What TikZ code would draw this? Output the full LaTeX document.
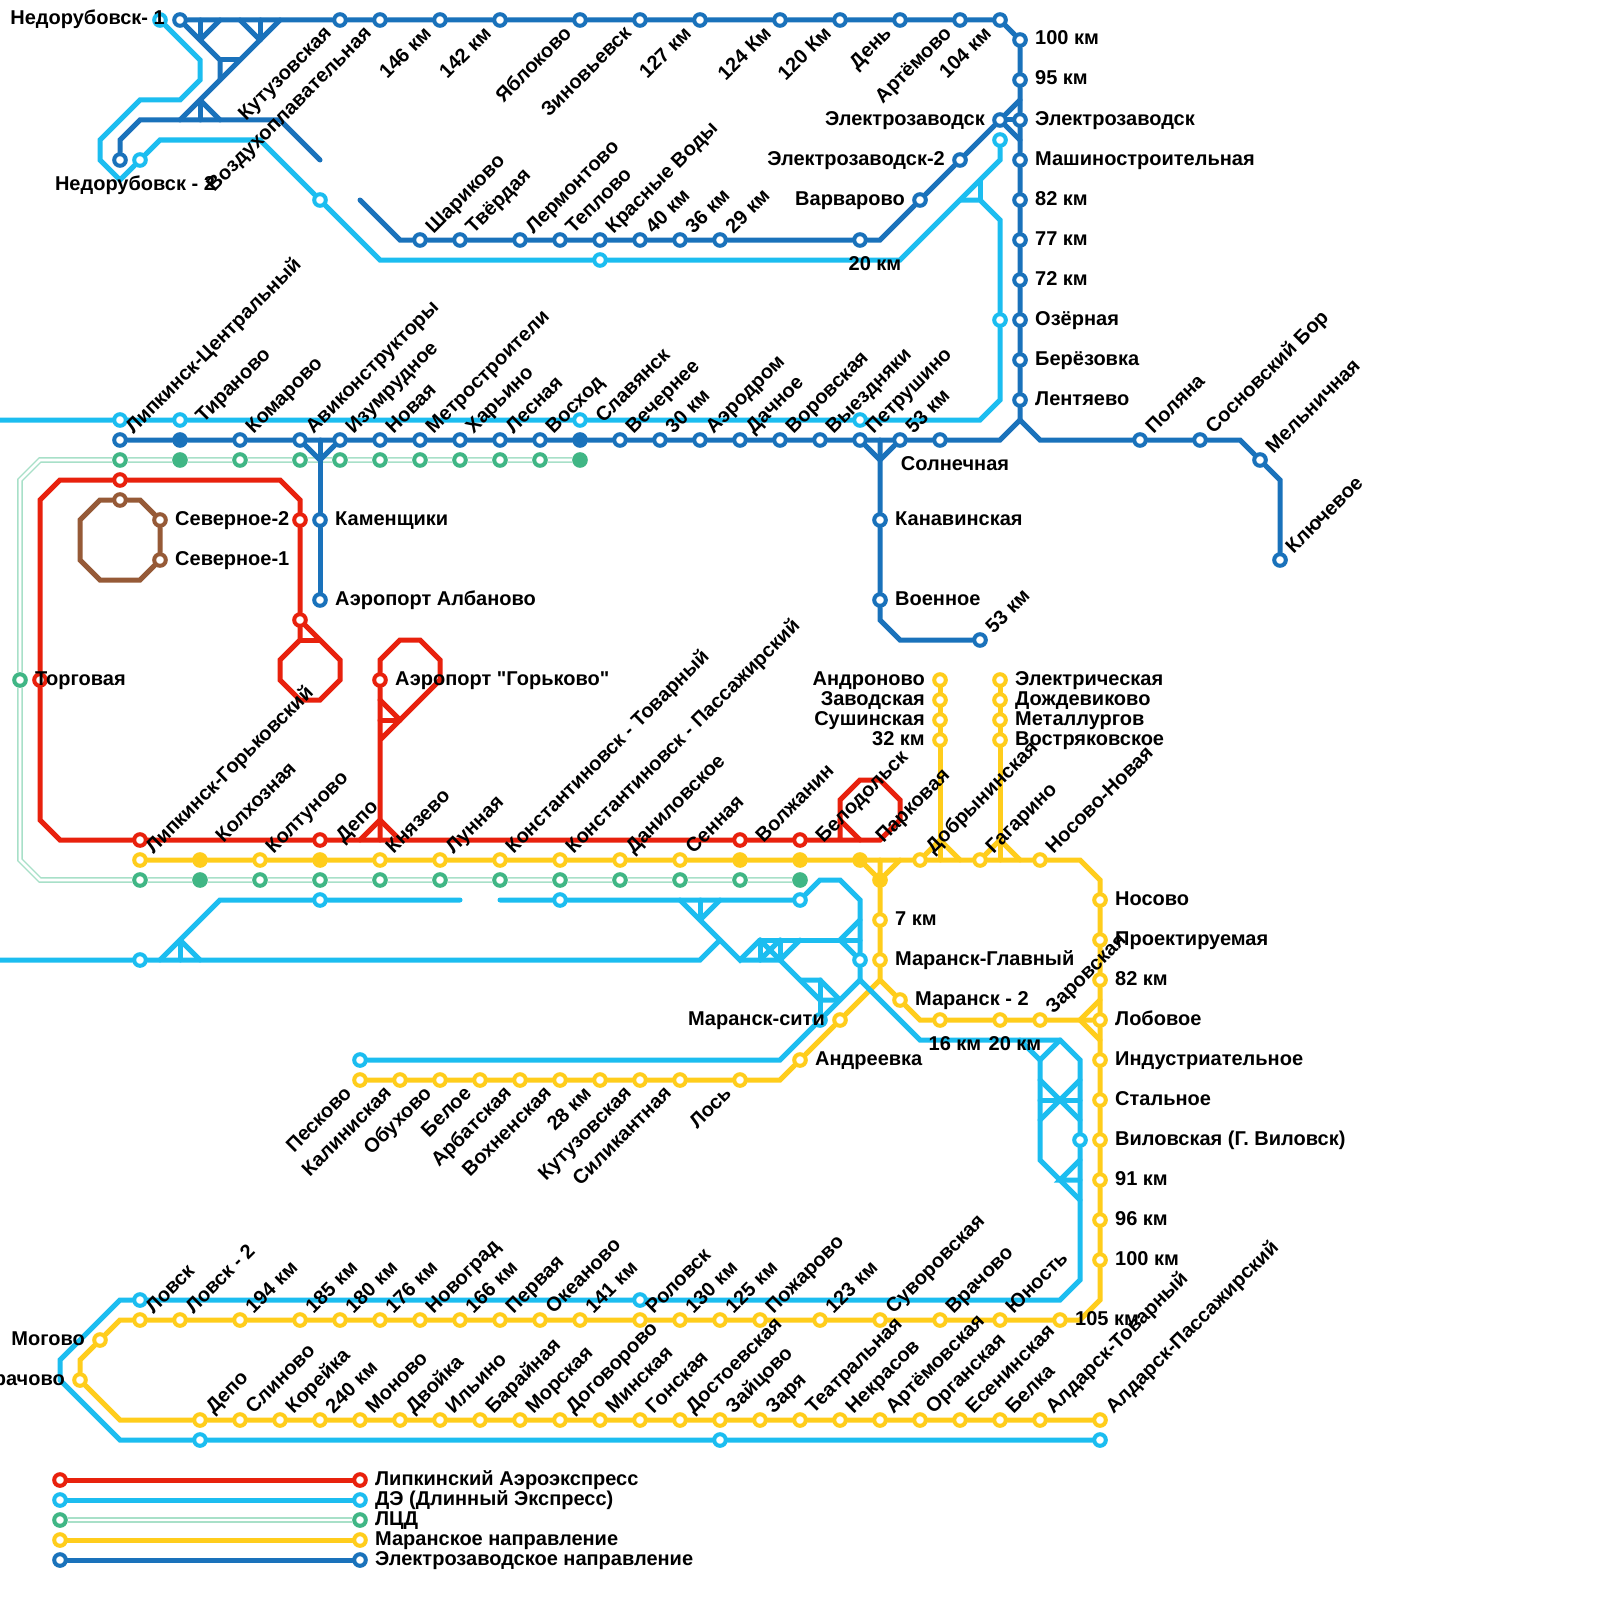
\documentclass[tikz,border=0pt]{standalone}
\usepackage{fontspec}
\setmainfont{Liberation Sans}[Ligatures=TeXOff]
\usetikzlibrary{calc}
\definecolor{cR}{HTML}{E8210D}
\definecolor{cL}{HTML}{1CBDF0}
\definecolor{cD}{HTML}{1A72BB}
\definecolor{cY}{HTML}{FFCD1C}
\definecolor{cG}{HTML}{40B685}
\definecolor{cP}{HTML}{A8E0C8}
\definecolor{cB}{HTML}{965A37}
\pgfdeclarelayer{fg}
\pgfsetlayers{main,fg}
\tikzset{
  x=1pt,y=-1pt,
  ln/.style={line width=5pt,line cap=round,line join=miter},
  lR/.style={ln,draw=cR}, lL/.style={ln,draw=cL}, lD/.style={ln,draw=cD},
  lY/.style={ln,draw=cY}, lB/.style={ln,draw=cB},
  lG/.style={draw=cP,line width=1.5pt,double=white,double distance=2.6pt},
  stn/.style={circle,inner sep=0pt,minimum size=11.6pt,line width=4pt,fill=white},
  sR/.style={stn,draw=cR}, sL/.style={stn,draw=cL}, sD/.style={stn,draw=cD},
  sY/.style={stn,draw=cY}, sG/.style={stn,draw=cG}, sB/.style={stn,draw=cB},
  fD/.style={stn,draw=cD,fill=cD}, fY/.style={stn,draw=cY,fill=cY}, fG/.style={stn,draw=cG,fill=cG},
  lab/.style={inner sep=0pt,text height=14pt,text depth=4pt,font=\bfseries\fontsize{20}{22}\selectfont,text=black},
}
\newcommand\sts[3]{\foreach \a/\b in {#3}{\node[#1] (#2\a-\b) at (\a,\b) {};}}
\newcommand\Lr[3][0,0]{\node[lab,anchor=west] (#2-t) at ($(#2)+(15,0)+(#1)$) {#3};}
\newcommand\Ll[3][0,0]{\node[lab,anchor=east] (#2-t) at ($(#2)+(-15,0)+(#1)$) {#3};}
\newcommand\Lu[2]{\node[lab,rotate=45,anchor=west] (#1-t) at ($(#1)+(10,-9)$) {#2};}
\newcommand\Lf[2]{\node[lab,rotate=45,anchor=west] (#1-t) at ($(#1)+(20,-20)$) {#2};}
\newcommand\Ld[2]{\node[lab,rotate=45,anchor=east] (#1-t) at ($(#1)+(-11,11)$) {#2};}
\newcommand\Lc[3]{\node[lab] (#2-t) at ($(#2)+(#1)$) {#3};}
\begin{document}
\begin{tikzpicture}
\path[fill=white,use as bounding box] (0,0) rectangle (1600,1600);
\foreach \a/\b in {0/420,0/960,20/480,40/460,20/860,40/880,40/500,60/480,40/820,60/840,280/480,300/500,340/660,340/680,320/700,300/700,280/680,280/660,300/640,320/640,
360/840,380/820,400/840,380/840,380/660,400/640,420/640,440/660,440/680,400/720,380/740,380/700,380/720,
880/840,900/820,900/800,880/780,860/780,840/800,840/840,840/820,860/840,
1020/420,1000/440,1040/440,1240/440,1280/480,320/460,320/440,880/460,880/440,880/620,900/640,220/60,220/80,280/20,180/120,240/60,200/20,200/40,220/20,240/20,260/40,260/20,200/100,200/120,220/120,120/140,140/120,280/120,320/160,360/200,400/240,880/240,1020/100,1020/140,
200/60,200/80,180/100,140/100,100/140,100/160,120/180,160/140,260/140,380/260,900/260,960/200,1000/160,980/200,1000/220,1000/400,980/420,980/180,
700/960,720/940,160/960,220/900,460/900,180/940,180/960,200/960,500/900,820/880,840/880,860/900,860/920,840/940,860/980,760/940,860/940,680/900,740/960,700/900,700/920,720/900,780/960,800/940,760/960,780/940,820/1000,840/1000,800/980,820/980,780/1060,920/1040,1060/1040,1080/1060,1080/1280,1060/1300,120/1300,60/1360,60/1380,120/1440,1020/1040,1040/1060,1040/1160,1060/1180,1080/1200,1040/1080,1080/1120,1040/1120,1080/1080,1040/1100,1080/1100,1080/1160,1080/1180,
1080/860,1100/880,1100/1300,1080/1320,120/1320,80/1360,120/1420,900/860,880/860,880/980,920/1020,1080/1020,1100/1000,1100/1040,780/1080,940/860,940/840,960/860,1000/860,1000/840,1020/860,
140/500,140/580,100/580,80/560,80/520,100/500}{\coordinate (j\a-\b) at (\a,\b);}
\begin{pgfonlayer}{fg}
% dark
\sts{sD}{d}{180/20,340/20,380/20,440/20,500/20,580/20,640/20,700/20,780/20,840/20,900/20,960/20,1000/20,1020/40,1020/80,1020/120,1020/160,1020/200,1020/240,1020/280,1020/320,1020/360,1020/400,1000/120,960/160,920/200,860/240,420/240,460/240,520/240,560/240,600/240,640/240,680/240,720/240,120/160,120/440,240/440,300/440,340/440,380/440,420/440,460/440,500/440,540/440,620/440,660/440,700/440,740/440,780/440,820/440,860/440,900/440,940/440,1140/440,1200/440,1260/460,1280/560,320/520,320/600,880/520,880/600,980/640,60/1560,360/1560}
\sts{fD}{d}{180/440,580/440}
% light
\sts{sL}{l}{160/20,140/160,320/200,600/260,1000/140,1000/320,120/420,180/420,580/420,860/420,140/960,320/900,560/900,800/900,860/960,820/1020,360/1060,1080/1140,140/1300,640/1300,200/1440,720/1440,1100/1440,60/1500,360/1500}
% green
\sts{sG}{g}{20/680,120/460,240/460,300/460,340/460,380/460,420/460,460/460,500/460,540/460,140/880,260/880,320/880,380/880,440/880,500/880,560/880,620/880,680/880,740/880,60/1520,360/1520}
\sts{fG}{g}{180/460,580/460,200/880,800/880}
% red
\sts{sR}{r}{120/480,300/520,300/620,40/680,140/840,320/840,740/840,800/840,380/680,60/1480,360/1480}
% brown
\sts{sB}{b}{120/500,160/520,160/560}
% yellow
\sts{sY}{y}{140/860,260/860,380/860,440/860,500/860,560/860,620/860,680/860,920/860,980/860,1040/860,880/920,880/960,900/1000,940/1020,1000/1020,1040/1020,1100/1020,840/1020,800/1060,360/1080,400/1080,440/1080,480/1080,520/1080,560/1080,600/1080,640/1080,680/1080,740/1080,1100/900,1100/940,1100/980,1100/1060,1100/1100,1100/1140,1100/1180,1100/1220,1100/1260,940/680,940/700,940/720,940/740,1000/680,1000/700,1000/720,1000/740,
140/1320,180/1320,240/1320,300/1320,340/1320,380/1320,420/1320,460/1320,500/1320,540/1320,580/1320,640/1320,680/1320,720/1320,760/1320,820/1320,880/1320,940/1320,1000/1320,1060/1320,100/1340,80/1380,
200/1420,240/1420,280/1420,320/1420,360/1420,400/1420,440/1420,480/1420,520/1420,560/1420,600/1420,640/1420,680/1420,720/1420,760/1420,800/1420,840/1420,880/1420,920/1420,960/1420,1000/1420,1040/1420,1100/1420,60/1540,360/1540}
\sts{fY}{y}{200/860,320/860,740/860,800/860,860/860,880/880}
\end{pgfonlayer}
% ---------- green
\draw[lG] (g20-680) -- (j20-480) -- (j40-460) -- (g120-460) -- (g180-460) -- (g240-460) -- (g300-460) -- (g340-460) -- (g380-460) -- (g420-460) -- (g460-460) -- (g500-460) -- (g540-460) -- (g580-460);
\draw[lG] (g20-680) -- (j20-860) -- (j40-880) -- (g140-880) -- (g200-880) -- (g260-880) -- (g320-880) -- (g380-880) -- (g440-880) -- (g500-880) -- (g560-880) -- (g620-880) -- (g680-880) -- (g740-880) -- (g800-880);
\draw[lG] (g60-1520) -- (g360-1520);
% ---------- brown
\draw[lB] (b120-500) -- (j140-500) -- (b160-520) -- (b160-560) -- (j140-580) -- (j100-580) -- (j80-560) -- (j80-520) -- (j100-500) -- (b120-500);
% ---------- red
\draw[lR] (r120-480) -- (j60-480) -- (j40-500) -- (r40-680) -- (j40-820) -- (j60-840) -- (r140-840) -- (r320-840) -- (r740-840) -- (r800-840) -- (j880-840) -- (j900-820) -- (j900-800) -- (j880-780) -- (j860-780) -- (j840-800) -- (j840-840);
\draw[lR] (j840-820) -- (j860-840);
\draw[lR] (r120-480) -- (j280-480) -- (j300-500) -- (r300-520) -- (r300-620) -- (j340-660) -- (j340-680) -- (j320-700) -- (j300-700) -- (j280-680) -- (j280-660) -- (j300-640) -- (r300-620);
\draw[lR] (j300-640) -- (j320-640);
\draw[lR] (j360-840) -- (j380-820) -- (j400-840);
\draw[lR] (j380-840) -- (r380-680) -- (j380-660) -- (j400-640) -- (j420-640) -- (j440-660) -- (j440-680) -- (j400-720) -- (j380-740);
\draw[lR] (j380-700) -- (j400-720);
\draw[lR] (j380-720) -- (j400-720);
\draw[lR] (r60-1480) -- (r360-1480);
% ---------- yellow
\draw[lY] (y140-860) -- (y200-860) -- (y260-860) -- (y320-860) -- (y380-860) -- (y440-860) -- (y500-860) -- (y560-860) -- (y620-860) -- (y680-860) -- (y740-860) -- (y800-860) -- (y860-860) -- (y920-860) -- (y980-860) -- (y1040-860) -- (j1080-860) -- (j1100-880) -- (y1100-900) -- (y1100-940) -- (y1100-980) -- (y1100-1020) -- (y1100-1060) -- (y1100-1100) -- (y1100-1140) -- (y1100-1180) -- (y1100-1220) -- (y1100-1260) -- (j1100-1300) -- (j1080-1320) -- (y1060-1320) -- (y1000-1320) -- (y940-1320) -- (y880-1320) -- (y820-1320) -- (y760-1320) -- (y720-1320) -- (y680-1320) -- (y640-1320) -- (y580-1320) -- (y540-1320) -- (y500-1320) -- (y460-1320) -- (y420-1320) -- (y380-1320) -- (y340-1320) -- (y300-1320) -- (y240-1320) -- (y180-1320) -- (y140-1320) -- (j120-1320) -- (y100-1340) -- (j80-1360) -- (y80-1380) -- (j120-1420) -- (y200-1420) -- (y240-1420) -- (y280-1420) -- (y320-1420) -- (y360-1420) -- (y400-1420) -- (y440-1420) -- (y480-1420) -- (y520-1420) -- (y560-1420) -- (y600-1420) -- (y640-1420) -- (y680-1420) -- (y720-1420) -- (y760-1420) -- (y800-1420) -- (y840-1420) -- (y880-1420) -- (y920-1420) -- (y960-1420) -- (y1000-1420) -- (y1040-1420) -- (y1100-1420);
\draw[lY] (y860-860) -- (y880-880) -- (j900-860);
\draw[lY] (j880-860) -- (y880-880) -- (y880-920) -- (y880-960) -- (j880-980) -- (y900-1000) -- (j920-1020) -- (y940-1020) -- (y1000-1020) -- (y1040-1020) -- (j1080-1020) -- (y1100-1020);
\draw[lY] (j1100-1000) -- (j1080-1020) -- (j1100-1040);
\draw[lY] (j880-980) -- (y840-1020) -- (y800-1060) -- (j780-1080) -- (y740-1080) -- (y680-1080) -- (y640-1080) -- (y600-1080) -- (y560-1080) -- (y520-1080) -- (y480-1080) -- (y440-1080) -- (y400-1080) -- (y360-1080);
\draw[lY] (y940-680) -- (y940-700) -- (y940-720) -- (y940-740) -- (j940-860);
\draw[lY] (y920-860) -- (j940-840) -- (j960-860);
\draw[lY] (y1000-680) -- (y1000-700) -- (y1000-720) -- (y1000-740) -- (j1000-860);
\draw[lY] (y980-860) -- (j1000-840) -- (j1020-860);
\draw[lY] (y60-1540) -- (y360-1540);
% ---------- light blue
\draw[lL] (l160-20) -- (j200-60) -- (j200-80) -- (j180-100) -- (j140-100) -- (j100-140) -- (j100-160) -- (j120-180) -- (l140-160) -- (j160-140) -- (j260-140) -- (l320-200) -- (j380-260) -- (l600-260) -- (j900-260) -- (j960-200) -- (j1000-160) -- (l1000-140);
\draw[lL] (j960-200) -- (j980-200) -- (j1000-220) -- (l1000-320) -- (j1000-400) -- (j980-420) -- (l860-420) -- (l580-420) -- (l180-420) -- (l120-420) -- (j0-420);
\draw[lL] (j980-180) -- (j980-200);
\draw[lL] (j0-960) -- (l140-960) -- (j700-960) -- (j720-940);
\draw[lL] (j160-960) -- (j220-900) -- (l320-900) -- (j460-900);
\draw[lL] (j180-940) -- (j180-960);
\draw[lL] (j180-940) -- (j200-960);
\draw[lL] (j500-900) -- (l560-900) -- (l800-900) -- (j820-880) -- (j840-880) -- (j860-900) -- (l860-960) -- (j860-980);
\draw[lL] (j860-920) -- (j840-940) -- (l860-960);
\draw[lL] (j760-940) -- (j860-940);
\draw[lL] (j680-900) -- (j740-960) -- (j760-940);
\draw[lL] (j700-900) -- (j700-920);
\draw[lL] (j720-900) -- (j700-920);
\draw[lL] (j740-960) -- (j780-960) -- (j800-940);
\draw[lL] (j760-940) -- (j760-960);
\draw[lL] (j780-940) -- (j780-960);
\draw[lL] (j760-940) -- (j780-960);
\draw[lL] (j760-960) -- (j780-940);
\draw[lL] (j780-960) -- (j820-1000) -- (j840-1000);
\draw[lL] (j800-980) -- (j820-980) -- (j840-1000);
\draw[lL] (j820-980) -- (l820-1020);
\draw[lL] (l360-1060) -- (j780-1060) -- (l820-1020) -- (j860-980) -- (j920-1040) -- (j1060-1040) -- (j1080-1060) -- (l1080-1140) -- (j1080-1280) -- (j1060-1300) -- (l640-1300) -- (l140-1300) -- (j120-1300) -- (j60-1360) -- (j60-1380) -- (j120-1440) -- (l200-1440) -- (l720-1440) -- (l1100-1440);
\draw[lL] (j1020-1040) -- (j1040-1060) -- (j1060-1040);
\draw[lL] (j1040-1060) -- (j1040-1160) -- (j1060-1180) -- (j1080-1200);
\draw[lL] (j1040-1080) -- (j1080-1120);
\draw[lL] (j1040-1120) -- (j1080-1080);
\draw[lL] (j1040-1100) -- (j1080-1100);
\draw[lL] (j1080-1160) -- (j1060-1180) -- (j1080-1180);
\draw[lL] (l60-1500) -- (l360-1500);
% ---------- dark blue
\draw[lD] (d180-20) -- (d340-20) -- (d380-20) -- (d440-20) -- (d500-20) -- (d580-20) -- (d640-20) -- (d700-20) -- (d780-20) -- (d840-20) -- (d900-20) -- (d960-20) -- (d1000-20) -- (d1020-40) -- (d1020-80) -- (d1020-120) -- (d1020-160) -- (d1020-200) -- (d1020-240) -- (d1020-280) -- (d1020-320) -- (d1020-360) -- (d1020-400) -- (j1020-420);
\draw[lD] (d120-440) -- (d180-440) -- (d240-440) -- (d300-440) -- (d340-440) -- (d380-440) -- (d420-440) -- (d460-440) -- (d500-440) -- (d540-440) -- (d580-440) -- (d620-440) -- (d660-440) -- (d700-440) -- (d740-440) -- (d780-440) -- (d820-440) -- (d860-440) -- (d900-440) -- (d940-440) -- (j1000-440) -- (j1020-420) -- (j1040-440) -- (d1140-440) -- (d1200-440) -- (j1240-440) -- (d1260-460) -- (j1280-480) -- (d1280-560);
\draw[lD] (d300-440) -- (j320-460) -- (d340-440);
\draw[lD] (j320-440) -- (j320-460) -- (d320-520) -- (d320-600);
\draw[lD] (d860-440) -- (j880-460) -- (d900-440);
\draw[lD] (j880-440) -- (j880-460) -- (d880-520) -- (d880-600) -- (j880-620) -- (j900-640) -- (d980-640);
\draw[lD] (d180-20) -- (j220-60) -- (j220-80);
\draw[lD] (j280-20) -- (j180-120);
\draw[lD] (j220-60) -- (j240-60);
\draw[lD] (j200-20) -- (j200-40);
\draw[lD] (j220-20) -- (j200-40);
\draw[lD] (j240-20) -- (j260-40);
\draw[lD] (j260-20) -- (j260-40);
\draw[lD] (j200-100) -- (j200-120);
\draw[lD] (j200-100) -- (j220-120);
\draw[lD] (d120-160) -- (j120-140) -- (j140-120) -- (j280-120) -- (j320-160);
\draw[lD] (j360-200) -- (j400-240) -- (d420-240) -- (d460-240) -- (d520-240) -- (d560-240) -- (d600-240) -- (d640-240) -- (d680-240) -- (d720-240) -- (d860-240) -- (j880-240) -- (d920-200) -- (d960-160) -- (d1000-120) -- (j1020-100);
\draw[lD] (d1000-120) -- (d1020-120);
\draw[lD] (d1000-120) -- (j1020-140);
\draw[lD] (d60-1560) -- (d360-1560);
% ---------- labels
\begin{pgfonlayer}{fg}
\Ll[20,0]{l160-20}{Недорубовск- 1}
\Lc{-5,25}{l140-160}{Недорубовск - 2}
\Ld{d340-20}{Кутузовская}
\Ld{d380-20}{Воздухоплавательная}
\Ld{d440-20}{146 км}
\Ld{d500-20}{142 км}
\Ld{d580-20}{Яблоково}
\Ld{d640-20}{Зиновьевск}
\Ld{d700-20}{127 км}
\Ld{d780-20}{124 Км}
\Ld{d840-20}{120 Км}
\Ld{d900-20}{День}
\Ld{d960-20}{Артёмово}
\Ld{d1000-20}{104 км}
\Lr{d1020-40}{100 км}
\Lr{d1020-80}{95 км}
\Lr{d1020-120}{Электрозаводск}
\Lr{d1020-160}{Машиностроительная}
\Lr{d1020-200}{82 км}
\Lr{d1020-240}{77 км}
\Lr{d1020-280}{72 км}
\Lr{d1020-320}{Озёрная}
\Lr{d1020-360}{Берёзовка}
\Lr{d1020-400}{Лентяево}
\Ll{d1000-120}{Электрозаводск}
\Ll{d960-160}{Электрозаводск-2}
\Ll{d920-200}{Варварово}
\Lc{15,25}{d860-240}{20 км}
\Lu{d420-240}{Шариково}
\Lu{d460-240}{Твёрдая}
\Lu{d520-240}{Лермонтово}
\Lu{d560-240}{Теплово}
\Lu{d600-240}{Красные Воды}
\Lu{d640-240}{40 км}
\Lu{d680-240}{36 км}
\Lu{d720-240}{29 км}
\Lu{d120-440}{Липкинск-Центральный}
\Lf{d180-440}{Тираново}
\Lu{d240-440}{Комарово}
\Lu{d300-440}{Авиконструкторы}
\Lu{d340-440}{Изумрудное}
\Lu{d380-440}{Новая}
\Lu{d420-440}{Метростроители}
\Lu{d460-440}{Харьино}
\Lu{d500-440}{Лесная}
\Lu{d540-440}{Восход}
\Lf{d580-440}{Славянск}
\Lu{d620-440}{Вечернее}
\Lu{d660-440}{30 км}
\Lu{d700-440}{Аэродром}
\Lu{d740-440}{Дачное}
\Lu{d780-440}{Воровская}
\Lu{d820-440}{Выездняки}
\Lu{d860-440}{Петрушино}
\Lu{d900-440}{53 км}
\Lc{15,25}{d940-440}{Солнечная}
\Lu{d1140-440}{Поляна}
\Lu{d1200-440}{Сосновский Бор}
\Lu{d1260-460}{Мельничная}
\Lu{d1280-560}{Ключевое}
\Lr{d320-520}{Каменщики}
\Lr{d320-600}{Аэропорт Албаново}
\Lr{d880-520}{Канавинская}
\Lr{d880-600}{Военное}
\Lu{d980-640}{53 км}
\Lr{b160-520}{Северное-2}
\Lr{b160-560}{Северное-1}
\Lr{g20-680}{Торговая}
\Lr{r380-680}{Аэропорт "Горьково"}
\Ll{y940-680}{Андроново}
\Ll{y940-700}{Заводская}
\Ll{y940-720}{Сушинская}
\Ll{y940-740}{32 км}
\Lr{y1000-680}{Электрическая}
\Lr{y1000-700}{Дождевиково}
\Lr{y1000-720}{Металлургов}
\Lr{y1000-740}{Востряковское}
\Lu{y140-860}{Липкинск-Горьковский}
\Lf{y200-860}{Колхозная}
\Lu{y260-860}{Колтуново}
\Lf{y320-860}{Депо}
\Lu{y380-860}{Князево}
\Lu{y440-860}{Лунная}
\Lu{y500-860}{Константиновск - Товарный}
\Lu{y560-860}{Константиновск - Пассажирский}
\Lu{y620-860}{Даниловское}
\Lu{y680-860}{Сенная}
\Lf{y740-860}{Волжанин}
\Lf{y800-860}{Белодольск}
\Lf{y860-860}{Парковая}
\Lu{y920-860}{Добрынинская}
\Lu{y980-860}{Гагарино}
\Lu{y1040-860}{Носово-Новая}
\Lr{y880-920}{7 км}
\Lr{y880-960}{Маранск-Главный}
\Lr{y900-1000}{Маранск - 2}
\Lc{15,25}{y940-1020}{16 км}
\Lc{15,25}{y1000-1020}{20 км}
\Lu{y1040-1020}{Заровская}
\Ll[20,0]{l820-1020}{Маранск-сити}
\Lr{y800-1060}{Андреевка}
\Lr{y1100-900}{Носово}
\Lr{y1100-940}{Проектируемая}
\Lr{y1100-980}{82 км}
\Lr{y1100-1020}{Лобовое}
\Lr{y1100-1060}{Индустриательное}
\Lr{y1100-1100}{Стальное}
\Lr{y1100-1140}{Виловская (Г. Виловск)}
\Lr{y1100-1180}{91 км}
\Lr{y1100-1220}{96 км}
\Lr{y1100-1260}{100 км}
\Ld{y360-1080}{Песково}
\Ld{y400-1080}{Калиниская}
\Ld{y440-1080}{Обухово}
\Ld{y480-1080}{Белое}
\Ld{y520-1080}{Арбатская}
\Ld{y560-1080}{Вохненская}
\Ld{y600-1080}{28 км}
\Ld{y640-1080}{Кутузовская}
\Ld{y680-1080}{Силикантная}
\Ld{y740-1080}{Лось}
\Lu{y140-1320}{Ловск}
\Lu{y180-1320}{Ловск - 2}
\Lu{y240-1320}{194 км}
\Lu{y300-1320}{185 км}
\Lu{y340-1320}{180 км}
\Lu{y380-1320}{176 км}
\Lu{y420-1320}{Новоград}
\Lu{y460-1320}{166 км}
\Lu{y500-1320}{Первая}
\Lu{y540-1320}{Океаново}
\Lu{y580-1320}{141 км}
\Lu{y640-1320}{Роловск}
\Lu{y680-1320}{130 км}
\Lu{y720-1320}{125 км}
\Lu{y760-1320}{Пожарово}
\Lu{y820-1320}{123 км}
\Lu{y880-1320}{Суворовская}
\Lu{y940-1320}{Врачово}
\Lu{y1000-1320}{Юность}
\Lr{y1060-1320}{105 км}
\Ll{y100-1340}{Могово}
\Ll{y80-1380}{рачово}
\Lu{y200-1420}{Депо}
\Lu{y240-1420}{Слиново}
\Lu{y280-1420}{Корейка}
\Lu{y320-1420}{240 км}
\Lu{y360-1420}{Моново}
\Lu{y400-1420}{Двойка}
\Lu{y440-1420}{Ильино}
\Lu{y480-1420}{Барайная}
\Lu{y520-1420}{Морская}
\Lu{y560-1420}{Договорово}
\Lu{y600-1420}{Минская}
\Lu{y640-1420}{Гонская}
\Lu{y680-1420}{Достоевская}
\Lu{y720-1420}{Зайцово}
\Lu{y760-1420}{Заря}
\Lu{y800-1420}{Театральная}
\Lu{y840-1420}{Некрасов}
\Lu{y880-1420}{Артёмовская}
\Lu{y920-1420}{Органская}
\Lu{y960-1420}{Есенинская}
\Lu{y1000-1420}{Белка}
\Lu{y1040-1420}{Алдарск-Товарный}
\Lu{y1100-1420}{Алдарск-Пассажирский}
\Lr{r360-1480}{Липкинский Аэроэкспресс}
\Lr{l360-1500}{ДЭ (Длинный Экспресс)}
\Lr{g360-1520}{ЛЦД}
\Lr{y360-1540}{Маранское направление}
\Lr{d360-1560}{Электрозаводское направление}
\end{pgfonlayer}
\end{tikzpicture}
\end{document}
